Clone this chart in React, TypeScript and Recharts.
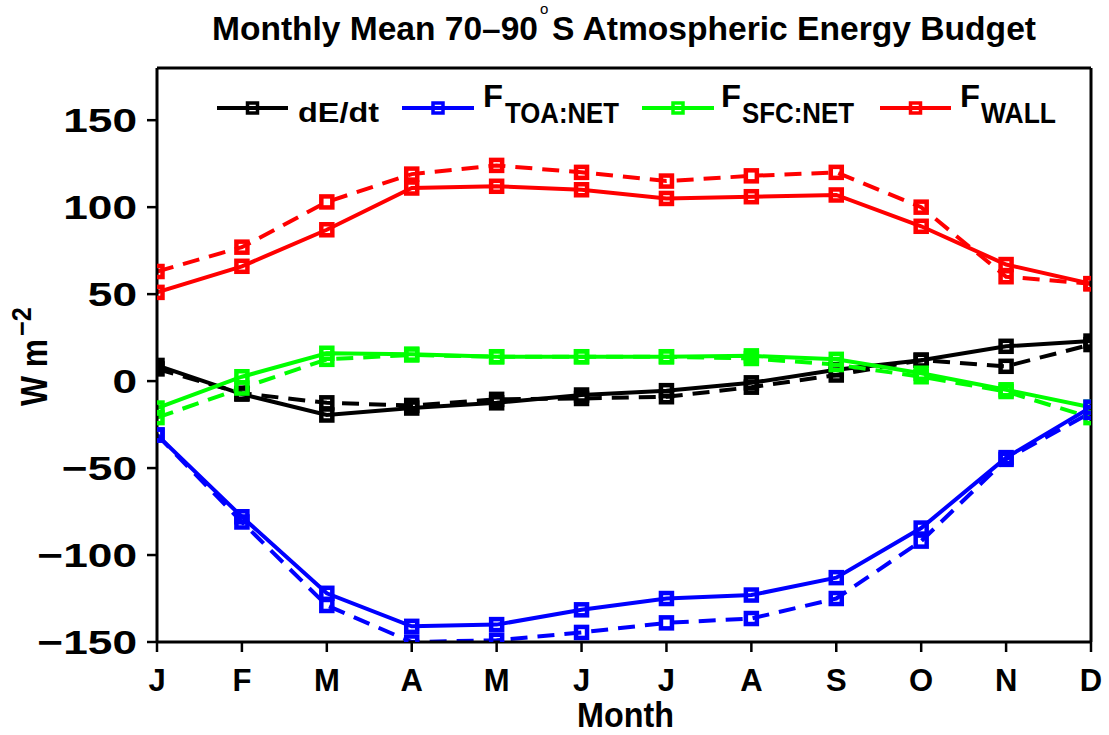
import React from 'react';
import { LineChart, Line, XAxis, YAxis, Legend } from 'recharts';

const MONTHS = ['J', 'F', 'M', 'A', 'M', 'J', 'J', 'A', 'S', 'O', 'N', 'D'];
const Y_TICKS = [-150, -100, -50, 0, 50, 100, 150];

// solid = first estimate, dashed = second estimate
const dEdt = [9, -7.5, -19.5, -15.5, -12.5, -8, -5.5, -1, 6.5, 12, 20, 23];
const dEdtDash = [7, -7, -12.5, -14, -10.5, -10, -9, -3.5, 3.5, 12, 8.5, 21];
const toaNet = [-31, -78, -122, -141, -140, -131.5, -125, -123, -113, -84.5, -44, -15];
const toaNetDash = [-31, -81, -129, -150, -149, -144.5, -139, -136.5, -125, -92, -45, -18];
const sfcNet = [-15.5, 2.5, 16, 15.5, 14, 14, 14, 14.5, 12.5, 4.5, -5, -15];
const sfcNetDash = [-21, -4, 12.5, 15, 14, 14, 14, 13, 9.5, 2.5, -6, -21];
const fWall = [51, 66, 87, 111, 112, 110, 105, 106, 107, 89, 67, 56];
const fWallDash = [63, 77, 103, 119, 124, 120, 115, 118, 120, 100, 60, 56];

const FONT = "'Liberation Sans', Arial, Helvetica, sans-serif";

const data = MONTHS.map((m, i) => ({
  i,
  m,
  dE: dEdt[i],
  dE2: dEdtDash[i],
  toa: toaNet[i],
  toa2: toaNetDash[i],
  sfc: sfcNet[i],
  sfc2: sfcNetDash[i],
  wall: fWall[i],
  wall2: fWallDash[i],
}));

const squareDot = (color: string) => (props: any) => {
  const { cx, cy, index } = props;
  if (cx == null || cy == null) return <g key={index} />;
  return (
    <rect
      key={index}
      x={cx - 5.5}
      y={cy - 5.5}
      width={11}
      height={11}
      fill="none"
      stroke={color}
      strokeWidth={4.5}
    />
  );
};

// wide bold y tick labels (stretched Helvetica look)
const YTick = (props: any) => {
  const { x, y, payload } = props;
  const v = payload.value as number;
  const label = v < 0 ? '\u2212' + Math.abs(v) : String(v);
  return (
    <g transform={`translate(${x},${y})`}>
      <text textAnchor="end" dy="0.36em" transform="scale(1.3,1)" fontFamily={FONT}
        fontWeight={700} fontSize={34} fill="#000">
        {label}
      </text>
    </g>
  );
};

const legendItems = [
  { color: '#000000', x0: 217, x1: 288, main: 'dE/dt', mainX: 298, mainW: 81, sub: '', subX: 0, subW: 0 },
  { color: '#0000ff', x0: 402, x1: 474, main: 'F', mainX: 483, mainW: 20, sub: 'TOA:NET', subX: 505, subW: 114 },
  { color: '#00ff00', x0: 642, x1: 714, main: 'F', mainX: 721, mainW: 20, sub: 'SFC:NET', subX: 742, subW: 112 },
  { color: '#ff0000', x0: 880, x1: 951, main: 'F', mainX: 960, mainW: 20, sub: 'WALL', subX: 981, subW: 75 },
];

function renderLegend() {
  return (
    <svg width={1109} height={140} style={{ display: 'block' }}>
      {legendItems.map((it) => {
        const mid = (it.x0 + it.x1) / 2;
        return (
          <g key={it.x0}>
            <line x1={it.x0} x2={it.x1} y1={108} y2={108} stroke={it.color} strokeWidth={4} />
            <rect x={mid - 5} y={103} width={10} height={10} fill="none" stroke={it.color} strokeWidth={3.5} />
            {it.sub === '' ? (
              <text x={it.mainX} y={122} fontFamily={FONT} fontWeight={700} fontSize={28}
                textLength={it.mainW} lengthAdjust="spacingAndGlyphs" fill="#000">
                {it.main}
              </text>
            ) : (
              <>
                <text x={it.mainX} y={107} fontFamily={FONT} fontWeight={700} fontSize={31}
                  textLength={it.mainW} lengthAdjust="spacingAndGlyphs" fill="#000">
                  {it.main}
                </text>
                <text x={it.subX} y={123} fontFamily={FONT} fontWeight={700} fontSize={29}
                  textLength={it.subW} lengthAdjust="spacingAndGlyphs" fill="#000">
                  {it.sub}
                </text>
              </>
            )}
          </g>
        );
      })}
    </svg>
  );
}

export default function App() {
  return (
    <div style={{ position: 'relative', width: 1109, height: 735, background: '#fff' }}>
      <style>{'body{margin:0;background:#fff}'}</style>
      <LineChart width={1109} height={735} data={data} margin={{ top: 0, right: 0, bottom: 0, left: 0 }}>
        <XAxis
          dataKey="i"
          type="number"
          domain={[0, 11]}
          ticks={MONTHS.map((_, i) => i)}
          tickFormatter={(v: number) => MONTHS[v]}
          height={93}
          tickSize={10}
          tickMargin={17}
          axisLine={{ stroke: '#000', strokeWidth: 3 }}
          tickLine={{ stroke: '#000', strokeWidth: 2.5 }}
          tick={{ fontFamily: FONT, fontWeight: 700, fontSize: 31, fill: '#000' }}
          allowDataOverflow
        />
        <XAxis
          xAxisId="top"
          orientation="top"
          dataKey="i"
          type="number"
          domain={[0, 11]}
          ticks={MONTHS.map((_, i) => i)}
          height={68}
          tickSize={10}
          tick={false}
          axisLine={{ stroke: '#000', strokeWidth: 3 }}
          tickLine={{ stroke: '#000', strokeWidth: 2.5 }}
          allowDataOverflow
        />
        <YAxis
          type="number"
          domain={[-150, 180]}
          ticks={Y_TICKS}
          width={157}
          tickSize={10}
          tickMargin={10}
          axisLine={{ stroke: '#000', strokeWidth: 3 }}
          tickLine={{ stroke: '#000', strokeWidth: 2.5 }}
          tick={<YTick />}
          allowDataOverflow
        />
        <YAxis
          yAxisId="right"
          orientation="right"
          type="number"
          domain={[-150, 180]}
          ticks={Y_TICKS}
          width={18}
          tickSize={10}
          tick={false}
          axisLine={{ stroke: '#000', strokeWidth: 3 }}
          tickLine={{ stroke: '#000', strokeWidth: 2.5 }}
          allowDataOverflow
        />
        <Legend
          layout="horizontal"
          verticalAlign="middle"
          align="center"
          wrapperStyle={{ top: 0, left: 0, width: 1109 }}
          content={renderLegend}
        />

        <Line dataKey="dE2" stroke="#000000" strokeWidth={4} strokeDasharray="17 10" dot={squareDot('#000000')} isAnimationActive={false} />
        <Line dataKey="dE" stroke="#000000" strokeWidth={4} dot={squareDot('#000000')} isAnimationActive={false} />
        <Line dataKey="sfc2" stroke="#00ff00" strokeWidth={4} strokeDasharray="17 10" dot={squareDot('#00ff00')} isAnimationActive={false} />
        <Line dataKey="sfc" stroke="#00ff00" strokeWidth={4} dot={squareDot('#00ff00')} isAnimationActive={false} />
        <Line dataKey="toa2" stroke="#0000ff" strokeWidth={4} strokeDasharray="17 10" dot={squareDot('#0000ff')} isAnimationActive={false} />
        <Line dataKey="toa" stroke="#0000ff" strokeWidth={4} dot={squareDot('#0000ff')} isAnimationActive={false} />
        <Line dataKey="wall2" stroke="#ff0000" strokeWidth={4} strokeDasharray="17 10" dot={squareDot('#ff0000')} isAnimationActive={false} />
        <Line dataKey="wall" stroke="#ff0000" strokeWidth={4} dot={squareDot('#ff0000')} isAnimationActive={false} />
      </LineChart>

      <svg width={1109} height={735} style={{ position: 'absolute', top: 0, left: 0, pointerEvents: 'none' }}>
        <text x={212} y={40} fontFamily={FONT} fontWeight={700} fontSize={34}
          textLength={326} lengthAdjust="spacingAndGlyphs" fill="#000">
          Monthly Mean 70–90
        </text>
        <text x={540} y={14} fontFamily={FONT} fontSize={15} fill="#000">o</text>
        <text x={552} y={40} fontFamily={FONT} fontWeight={700} fontSize={34}
          textLength={484} lengthAdjust="spacingAndGlyphs" fill="#000">
          S Atmospheric Energy Budget
        </text>
        <text x={577} y={727} fontFamily={FONT} fontWeight={700} fontSize={35}
          textLength={97} lengthAdjust="spacingAndGlyphs" fill="#000">
          Month
        </text>
        <text x={47} y={406} transform="rotate(-90 47 406)" fontFamily={FONT} fontWeight={700} fontSize={37}
          textLength={67} lengthAdjust="spacingAndGlyphs" fill="#000">
          W m
        </text>
        <text x={31} y={336} transform="rotate(-90 31 336)" fontFamily={FONT} fontWeight={700} fontSize={27}
          textLength={29} lengthAdjust="spacingAndGlyphs" fill="#000">
          −2
        </text>
      </svg>
    </div>
  );
}
